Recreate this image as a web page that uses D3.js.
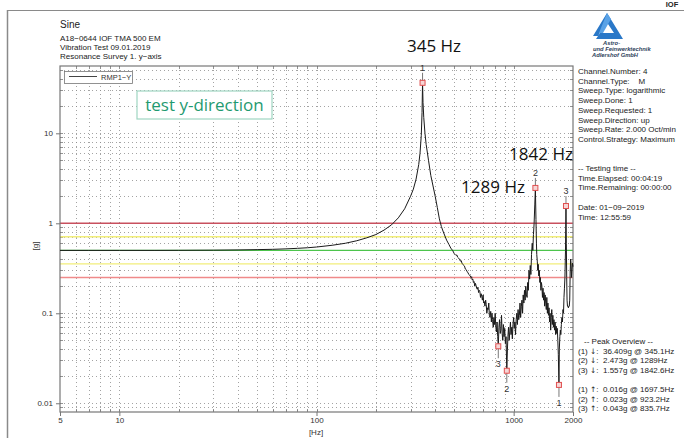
<!DOCTYPE html>
<html>
<head>
<meta charset="utf-8">
<script src="https://cdn.jsdelivr.net/npm/d3@7"></script>
<style>
  html, body { margin: 0; padding: 0; background: #fff; }
  svg { display: block; font-family: "Liberation Sans", Arial, sans-serif; }
  text { white-space: pre; }
</style>
</head>
<body>
<svg id="chart" width="684" height="438"></svg>
<script>
// Sweep response, channel RMP1-Y: frequency [Hz] and acceleration [g]
const freqs = [
  5, 7, 10, 15, 20, 30, 40, 50, 60, 70, 80, 90, 100, 120, 140, 160, 180, 200, 220, 240, 260, 280,
  300, 310, 320, 330, 335, 340, 343, 345.1, 347, 350, 355, 360, 370, 380, 390, 400, 410, 420, 430, 440, 457, 470, 480, 490,
  500, 505, 510, 515, 520, 526, 531, 537, 542, 547, 553, 558, 563, 569, 575, 580, 586, 592,
  598, 603, 607, 612, 616, 621, 625, 630, 635, 640, 644, 649, 654, 659, 664, 669, 674, 679, 684, 689,
  694, 700, 705, 710, 715, 721, 726, 731, 737, 742, 748, 753, 759, 765, 771, 776, 782, 788, 794, 800,
  806, 812, 818, 824, 830, 835.7, 842, 848, 855, 861, 868, 874, 881, 887, 894, 901, 908, 915, 923.2, 930,
  935, 942, 949, 956, 963, 970, 978, 985, 992, 1000, 1007, 1015, 1022, 1030, 1038, 1045, 1053, 1061, 1069, 1077,
  1085, 1094, 1102, 1110, 1118, 1127, 1135, 1144, 1152, 1161, 1170, 1178, 1187, 1196, 1205, 1214, 1223, 1232, 1242, 1251,
  1260, 1270, 1280, 1289, 1298, 1305, 1310, 1318, 1325, 1333, 1341, 1350, 1358, 1366, 1375, 1383, 1391, 1400, 1409, 1418,
  1427, 1436, 1445, 1455, 1464, 1473, 1483, 1492, 1502, 1512, 1521, 1531, 1541, 1551, 1561, 1571, 1581, 1591, 1601, 1612,
  1622, 1633, 1643, 1654, 1665, 1675, 1685, 1697.5, 1705, 1715, 1725, 1735, 1746, 1757, 1768, 1779, 1790, 1800, 1810, 1820,
  1832, 1842.6, 1850, 1858, 1866, 1875, 1885, 1895, 1905, 1915, 1925, 1935, 1945, 1955, 1965, 1975, 1988, 2000];
const accel = [
  0.5, 0.5, 0.5, 0.5, 0.501, 0.503, 0.506, 0.51, 0.514, 0.52, 0.527, 0.535, 0.545, 0.57, 0.6, 0.64, 0.69, 0.75, 0.84, 0.96, 1.15, 1.45,
  2.0, 2.4, 3.1, 4.5, 6.0, 9.5, 17, 36.409, 22, 15, 10, 7.5, 5.0, 3.4, 2.6, 2.0, 1.5, 1.12, 0.92, 0.8, 0.65, 0.58, 0.53, 0.5,
  0.46, 0.45, 0.44, 0.445, 0.42, 0.41, 0.4, 0.38, 0.385, 0.36, 0.35, 0.34, 0.335, 0.31, 0.305, 0.29, 0.285, 0.27,
  0.265, 0.26, 0.25, 0.255, 0.235, 0.24, 0.22, 0.225, 0.2, 0.215, 0.205, 0.19, 0.185, 0.195, 0.17, 0.18, 0.175, 0.15, 0.165, 0.155,
  0.14, 0.16, 0.13, 0.135, 0.12, 0.14, 0.125, 0.1, 0.115, 0.11, 0.13, 0.095, 0.09, 0.105, 0.08, 0.1, 0.085, 0.07, 0.09, 0.075,
  0.1, 0.07, 0.062, 0.08, 0.055, 0.043, 0.07, 0.085, 0.06, 0.065, 0.095, 0.06, 0.05, 0.075, 0.055, 0.068, 0.046, 0.055, 0.023, 0.04,
  0.055, 0.07, 0.05, 0.062, 0.08, 0.058, 0.07, 0.052, 0.075, 0.09, 0.068, 0.08, 0.058, 0.085, 0.1, 0.075, 0.11, 0.085, 0.095, 0.13,
  0.09, 0.12, 0.14, 0.1, 0.16, 0.13, 0.18, 0.14, 0.2, 0.16, 0.15, 0.22, 0.18, 0.3, 0.24, 0.34, 0.27, 0.45, 0.6, 0.5,
  0.75, 1.0, 1.6, 2.473, 1.1, 0.6, 0.45, 0.38, 0.3, 0.35, 0.26, 0.3, 0.22, 0.25, 0.18, 0.22, 0.2, 0.15, 0.19, 0.14,
  0.17, 0.12, 0.16, 0.13, 0.11, 0.15, 0.1, 0.13, 0.095, 0.115, 0.08, 0.1, 0.065, 0.09, 0.11, 0.075, 0.095, 0.07, 0.085, 0.065,
  0.08, 0.058, 0.072, 0.06, 0.068, 0.05, 0.035, 0.016, 0.04, 0.055, 0.065, 0.058, 0.075, 0.09, 0.08, 0.11, 0.1, 0.15, 0.19, 0.25,
  0.5, 1.557, 0.6, 0.25, 0.14, 0.12, 0.12, 0.115, 0.12, 0.12, 0.14, 0.28, 0.4, 0.36, 0.25, 0.3, 0.36, 0.33];

// Detected peaks (maxima) and notches (minima)
const maxFreq = [345.1, 1289, 1842.6];
const maxAccel = [36.409, 2.473, 1.557];
const minFreq = [1697.5, 923.2, 835.7];
const minAccel = [0.016, 0.023, 0.043];

// Alarm / abort levels around the 0.5 g reference
const limitLevels = [1.0, 0.708, 0.5, 0.354, 0.25];
const limitColors = ["#c8505e", "#f2ee7a", "#4cc44c", "#f2ee7a", "#f08a8a"];

const xTicks = [5, 10, 100, 1000, 2000];
const yTicks = [0.01, 0.1, 1, 10];

const headerLines = ["A18\u22120644 IOF TMA 500 EM", "Vibration Test 09.01.2019", "Resonance Survey 1. y\u2212axis"];
const infoLines = ["Channel.Number: 4", "Channel.Type:    M", "Sweep.Type: logarithmic", "Sweep.Done: 1",
  "Sweep.Requested: 1", "Sweep.Direction: up", "Sweep.Rate: 2.000 Oct/min", "Control.Strategy: Maximum", "", "",
  "-- Testing time --", "Time.Elapsed: 00:04:19", "Time.Remaining: 00:00:00", "", "Date: 01\u221209\u22122019",
  "Time: 12:55:59"];
const peakLines = ["-- Peak Overview --", "(1) \u2193:  36.409g @ 345.1Hz", "(2) \u2193:  2.473g @ 1289Hz",
  "(3) \u2193:  1.557g @ 1842.6Hz", "", "(1) \u2191:  0.016g @ 1697.5Hz", "(2) \u2191:  0.023g @ 923.2Hz",
  "(3) \u2191:  0.043g @ 835.7Hz"];
const calloutText = ["345 Hz", "1289 Hz", "1842 Hz"];

const svg = d3.select("#chart");
const L = 60, R = 573, T = 66, B = 412;

const x = d3.scaleLog().domain([5, 2000]).range([L, R]);
const y = d3.scaleLog().domain([0.008, 56]).range([B, T]);

// Page frame
svg.append("line").attr("x1", 7.5).attr("x2", 7.5).attr("y1", 10).attr("y2", 438)
  .attr("stroke", "#8a8a8a").attr("stroke-width", 1.5);
svg.append("line").attr("x1", 7).attr("x2", 684).attr("y1", 10.5).attr("y2", 10.5)
  .attr("stroke", "#8a8a8a").attr("stroke-width", 1.2);
svg.append("text").attr("x", 672).attr("y", 7).attr("font-size", 7.5).attr("font-weight", "bold")
  .attr("text-anchor", "middle").attr("fill", "#222").text("IOF");

// Header
svg.append("text").attr("x", 60).attr("y", 28).attr("font-size", 10).attr("fill", "#222").text("Sine");
headerLines.forEach((s, i) => {
  svg.append("text").attr("x", 60).attr("y", 41 + i * 9).attr("font-size", 8).attr("fill", "#222").text(s);
});

// Logo
const logo = svg.append("g");
logo.append("path")
  .attr("d", "M607,13 L623,39 L596,39 L600,33 L614,33 L606,21 L598,36 L593,36 Z")
  .attr("fill", "#2a78c8");
logo.append("path").attr("d", "M607,13 L611,19 L603,33 L599,33 Z").attr("fill", "#5aa2e6");
["Astro-", "und Feinwerktechnik", "Adlershof GmbH"].forEach((s, i) => {
  logo.append("text").attr("x", [603, 593, 592][i]).attr("y", 45 + i * 6)
    .attr("font-size", 5.8).attr("font-style", "italic").attr("font-weight", "bold")
    .attr("fill", "#2e3e5a").text(s);
});

// Minor grid values
const decadesX = [];
[1, 10, 100, 1000].forEach(d => { for (let k = 1; k <= 9; k++) { const v = d * k; if (v > 5 && v < 2000) decadesX.push(v); } });
const decadesY = [];
[0.001, 0.01, 0.1, 1, 10].forEach(d => { for (let k = 1; k <= 9; k++) { const v = +(d * k).toPrecision(3); if (v > 0.008 && v < 56) decadesY.push(v); } });

const grid = svg.append("g");
grid.selectAll("line.gx").data(decadesX).join("line")
  .attr("x1", d => Math.round(x(d)) + 0.5).attr("x2", d => Math.round(x(d)) + 0.5)
  .attr("y1", T).attr("y2", B).attr("stroke", "#8c8c8c").attr("stroke-width", 0.8)
  .attr("stroke-dasharray", "1,3");
grid.selectAll("line.gy").data(decadesY).join("line")
  .attr("y1", d => Math.round(y(d)) + 0.5).attr("y2", d => Math.round(y(d)) + 0.5)
  .attr("x1", L).attr("x2", R).attr("stroke", "#8c8c8c").attr("stroke-width", 0.8)
  .attr("stroke-dasharray", "1,3");

// Inner minor ticks on all sides
const ticks = svg.append("g").attr("stroke", "#777").attr("stroke-width", 0.8);
decadesX.forEach(v => {
  const px = Math.round(x(v)) + 0.5;
  ticks.append("line").attr("x1", px).attr("x2", px).attr("y1", T).attr("y2", T + 3);
  ticks.append("line").attr("x1", px).attr("x2", px).attr("y1", B).attr("y2", B - 3);
});
decadesY.forEach(v => {
  const py = Math.round(y(v)) + 0.5;
  ticks.append("line").attr("x1", L).attr("x2", L + 3).attr("y1", py).attr("y2", py);
  ticks.append("line").attr("x1", R).attr("x2", R - 3).attr("y1", py).attr("y2", py);
});

// Limit lines
svg.append("g").selectAll("line").data(limitLevels).join("line")
  .attr("x1", L).attr("x2", R)
  .attr("y1", d => y(d)).attr("y2", d => y(d))
  .attr("stroke", (d, i) => limitColors[i]).attr("stroke-width", 1.4);

// Axes
const xAxis = d3.axisBottom(x).tickValues(xTicks).tickFormat(d => String(d)).tickSize(4);
const yAxis = d3.axisLeft(y).tickValues(yTicks).tickFormat(d => String(d)).tickSize(4);
const gx = svg.append("g").attr("transform", `translate(0,${B})`).call(xAxis);
const gy = svg.append("g").attr("transform", `translate(${L},0)`).call(yAxis);
[gx, gy].forEach(g => {
  g.select(".domain").remove();
  g.selectAll("line").attr("stroke", "#777");
  g.selectAll("text").attr("font-size", 8).attr("fill", "#333")
    .attr("font-family", "Liberation Sans, Arial, sans-serif");
});
gx.selectAll("text").attr("y", 5).attr("dy", "0.75em");

// Plot frame
svg.append("rect").attr("x", L).attr("y", T).attr("width", R - L).attr("height", B - T)
  .attr("fill", "none").attr("stroke", "#777").attr("stroke-width", 1.2);

svg.append("text").attr("x", 316).attr("y", 435).attr("font-size", 8).attr("text-anchor", "middle")
  .attr("fill", "#333").text("[Hz]");
svg.append("text").attr("transform", "translate(38,246) rotate(-90)").attr("font-size", 8)
  .attr("text-anchor", "middle").attr("fill", "#333").text("[g]");

// Response curve
const data = freqs.map((f, i) => [f, accel[i]]);
svg.append("path").datum(data)
  .attr("d", d3.line().x(d => x(d[0])).y(d => y(d[1])))
  .attr("fill", "none").attr("stroke", "#1a1a1a").attr("stroke-width", 1);

// Peak and notch markers with index labels
const markG = svg.append("g");
function marker(f, g, label, up) {
  const px = x(f), py = y(g);
  const ly = up ? py - 12 : py + 21;
  markG.append("line").attr("x1", px).attr("x2", px).attr("y1", py).attr("y2", up ? py - 10 : py + 12)
    .attr("stroke", "#555").attr("stroke-width", 0.8);
  markG.append("rect").attr("x", px - 2.5).attr("y", py - 2.5).attr("width", 5).attr("height", 5)
    .attr("fill", "#f6d6d6").attr("stroke", "#e05050").attr("stroke-width", 1);
  markG.append("text").attr("x", px).attr("y", ly).attr("text-anchor", "middle")
    .attr("font-size", 9).attr("fill", "#333").text(label);
}
maxFreq.forEach((f, i) => marker(f, maxAccel[i], String(i + 1), true));
minFreq.forEach((f, i) => marker(f, minAccel[i], String(i + 1), false));

// Legend
svg.append("rect").attr("x", 64.5).attr("y", 71.5).attr("width", 68).attr("height", 12)
  .attr("fill", "#fff").attr("stroke", "#777").attr("stroke-width", 0.8);
svg.append("line").attr("x1", 69).attr("x2", 97).attr("y1", 76.5).attr("y2", 76.5)
  .attr("stroke", "#444").attr("stroke-width", 1);
svg.append("text").attr("x", 101).attr("y", 80).attr("font-size", 7.5).attr("fill", "#333").text("RMP1\u2212Y");

// Direction tag
svg.append("rect").attr("x", 137).attr("y", 91).attr("width", 135).attr("height", 28)
  .attr("fill", "#fff").attr("stroke", "#9fd6c2").attr("stroke-width", 1.2);
svg.append("text").attr("x", 204.5).attr("y", 111).attr("text-anchor", "middle")
  .attr("font-family", "Open Sans, sans-serif").attr("font-size", 17).attr("fill", "#1f9a70")
  .text("test y-direction");

// Frequency call-outs next to the three resonance peaks
const calloutPos = [[434, 52], [493, 193], [541, 160]];
maxFreq.forEach((f, i) => {
  svg.append("text").attr("x", calloutPos[i][0]).attr("y", calloutPos[i][1]).attr("text-anchor", "middle")
    .attr("font-family", "Open Sans, sans-serif").attr("font-size", 17).attr("fill", "#111").text(calloutText[i]);
});

// Side panels
infoLines.forEach((s, i) => {
  svg.append("text").attr("x", 578).attr("y", 74 + i * 9.7).attr("font-size", 8).attr("fill", "#222").text(s);
});
peakLines.forEach((s, i) => {
  const t = svg.append("text").attr("x", i === 0 ? 584 : 578).attr("y", 344 + i * 9.6).attr("font-size", 8)
    .attr("fill", "#222");
  const parts = s.split(/([\u2191\u2193])/);
  parts.forEach(p => {
    if (!p) return;
    const ts = t.append("tspan").text(p);
    if (p === "\u2191" || p === "\u2193") ts.attr("font-family", "DejaVu Sans").attr("font-size", 7.5);
  });
});
</script>
</body>
</html>
